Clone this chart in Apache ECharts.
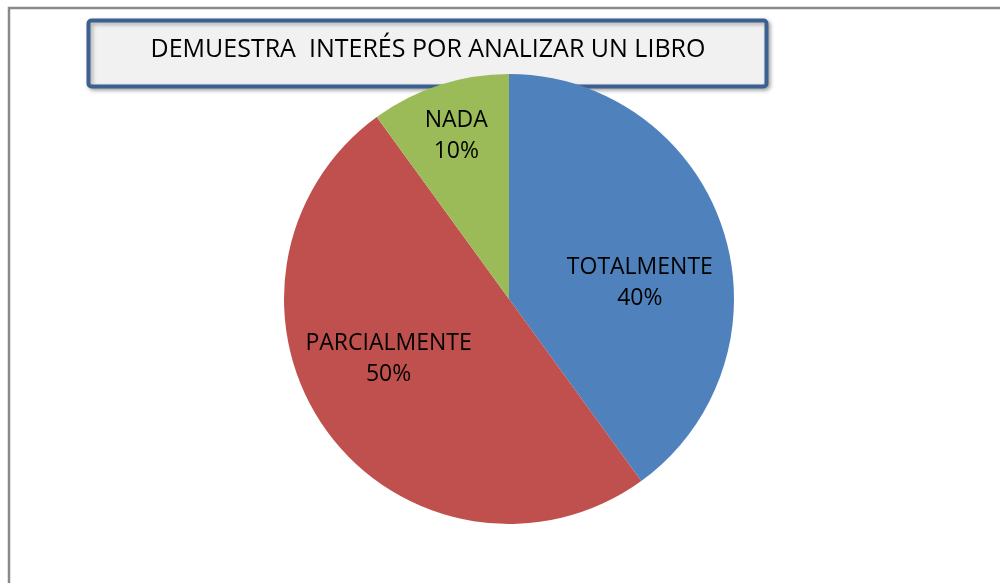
<!DOCTYPE html>
<html>
<head>
<meta charset="utf-8">
<script src="https://cdn.jsdelivr.net/npm/echarts@6/dist/echarts.min.js"></script>
<style>
html,body{margin:0;padding:0;background:#fff;}
#chart{width:1000px;height:583px;}
</style>
</head>
<body>
<div id="chart"></div>
<script>
const titleText = 'DEMUESTRA  INTERÉS POR ANALIZAR UN LIBRO';
const categories = ['TOTALMENTE', 'PARCIALMENTE', 'NADA'];
const values = [40, 50, 10];
const colors = ['#4F81BD', '#C0504D', '#9BBB59'];
const labelOffsets = [[21, 20], [-27, -8], [-17, -53]];

const chart = echarts.init(document.getElementById('chart'), null, {renderer: 'canvas'});
const FONT = '"Open Sans", sans-serif';

chart.setOption({
  backgroundColor: '#ffffff',
  animation: false,
  series: [{
    type: 'pie',
    center: [509, 299],
    radius: [0, 225],
    startAngle: 90,
    clockwise: true,
    silent: true,
    z: 2,
    itemStyle: {borderWidth: 0},
    label: {
      show: true,
      position: 'inside',
      formatter: p => p.name + '\n' + p.value + '%',
      fontFamily: FONT,
      fontSize: 23,
      lineHeight: 31,
      color: '#000',
      align: 'center'
    },
    labelLine: {show: false},
    labelLayout: function (params) {
      const o = labelOffsets[params.dataIndex];
      return {dx: o[0], dy: o[1]};
    },
    data: categories.map((c, i) => ({name: c, value: values[i], itemStyle: {color: colors[i]}}))
  }],
  graphic: [
    {
      type: 'polyline',
      z: 1,
      shape: {points: [[9, 583], [9, 8], [1000, 8]]},
      style: {stroke: '#8a8a8a', lineWidth: 2.5, fill: null}
    },
    {
      type: 'group',
      z: 10,
      children: [
        {
          type: 'rect',
          shape: {x: 88.5, y: 20.5, width: 678, height: 66, r: 3},
          style: {
            fill: '#f1f1f1',
            stroke: '#3C6190',
            lineWidth: 4,
            shadowBlur: 4,
            shadowOffsetX: 2,
            shadowOffsetY: 2,
            shadowColor: 'rgba(0,0,0,0.3)'
          }
        },
        {
          type: 'text',
          style: {
            x: 428,
            y: 50,
            text: titleText,
            align: 'center',
            verticalAlign: 'middle',
            fontFamily: FONT,
            fontSize: 25,
            fill: '#000'
          }
        }
      ]
    }
  ]
});
</script>
</body>
</html>
